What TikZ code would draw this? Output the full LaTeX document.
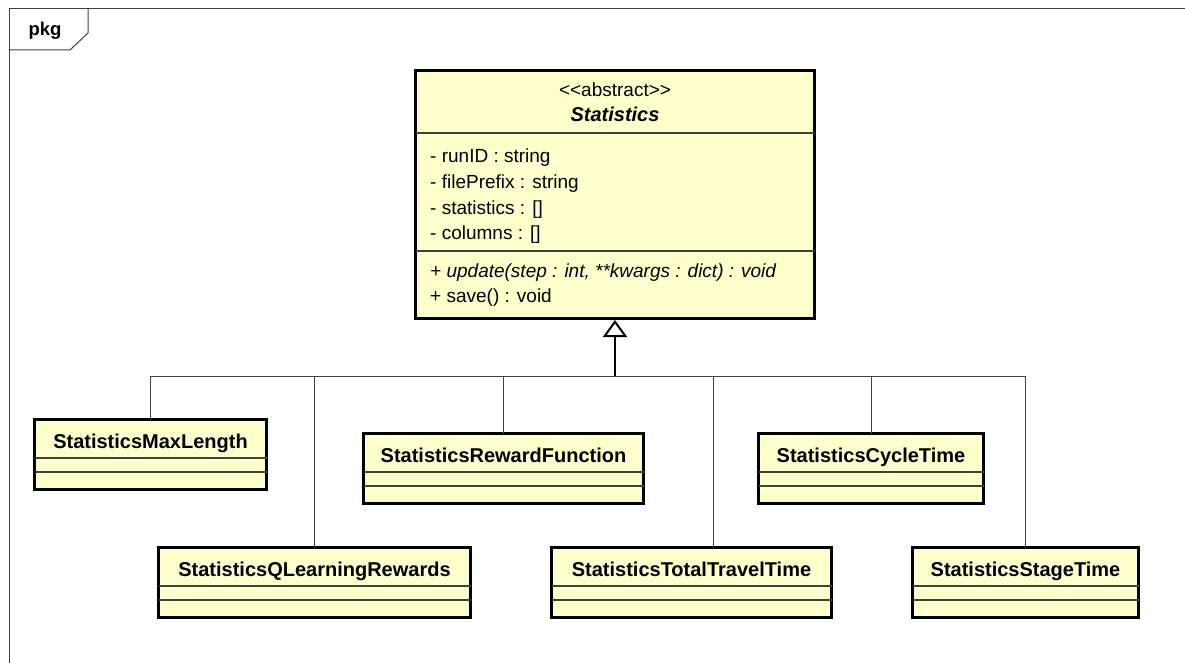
\documentclass[tikz,border=0pt]{standalone}
\usepackage{fontspec}
\setmainfont{Liberation Sans}
\definecolor{ClassFill}{RGB}{255,255,204}
\definecolor{LineGray}{RGB}{64,64,64}
\usepackage{tikz}
\usetikzlibrary{arrows.meta, positioning, calc}

\tikzset{
    cls/.style={draw=black, line width=3pt, fill=ClassFill, minimum height=70pt, inner sep=0pt, outer sep=0pt},
    clsname/.style={anchor=base, inner sep=0pt, font=\fontsize{20}{24}\selectfont\bfseries},
    member/.style={anchor=base west, inner sep=0pt, font=\fontsize{19}{23}\selectfont},
    divider/.style={line width=1.2pt, draw=LineGray},
    conn/.style={line width=1pt, draw=LineGray},
    gen/.style={line width=2pt, -{Triangle[open, length=17pt, width=24pt]}},
    frame/.style={line width=1pt, draw=LineGray}
}

\begin{document}
\begin{tikzpicture}[x=1pt, y=-1pt]
    \useasboundingbox (0,0) rectangle (1185,663);
    % package frame
    \draw [frame] (9,680) -- (9,9) -- (1200,9);
    \draw [frame] (9,50) -- (70,50) -- (88,33) -- (88,9);
    \node [clsname, anchor=center, font=\fontsize{18.5}{22}\selectfont\bfseries] (pkg) at (45,31) {pkg};

    % abstract base class
    \node [cls, minimum width=399pt, minimum height=248pt] (stat) at (615,194.5) {};
    \node [clsname, font=\fontsize{19}{23}\selectfont] (stat-stereo) at (615,97) {<{}<abstract>{}>};
    \node [clsname, font=\fontsize{20}{24}\selectfont\bfseries\itshape] (stat-name) at (615,122) {Statistics};
    \draw [divider] (stat.west |- 0,133) -- (stat.east |- 0,133);
    \draw [divider] (stat.west |- 0,251) -- (stat.east |- 0,251);
    \node [member] (att-runid) at (430,163) {- runID : string};
    \node [member] (att-prefix) at (430,188.5) {- filePrefix : string};
    \node [member] (att-stats) at (430,214) {- statistics : []};
    \node [member] (att-cols) at (430,239.5) {- columns : []};
    \node [member, font=\fontsize{19}{23}\selectfont\itshape] (op-update) at (430,277) {+ update(step : int, **kwargs : dict) : void};
    \node [member] (op-save) at (430,302.5) {+ save() : void};

    % subclasses
    \foreach \n/\x/\y/\w/\t in {maxlen/150.5/454.5/232/StatisticsMaxLength,
        qlearn/314.5/582.5/312/StatisticsQLearningRewards,
        reward/503.5/468.5/280/StatisticsRewardFunction,
        travel/691.5/582.5/280/StatisticsTotalTravelTime,
        cycle/871/468.5/225/StatisticsCycleTime,
        stage/1025.5/582.5/226/StatisticsStageTime} {
        \node [cls, minimum width=\w pt] (\n) at (\x,\y) {};
        \node [clsname] (\n-name) at ([yshift=-28.5pt]\n.north) {\t};
        \draw [divider] ([yshift=-38.5pt]\n.north west) -- ([yshift=-38.5pt]\n.north east);
        \draw [divider] ([yshift=-52.5pt]\n.north west) -- ([yshift=-52.5pt]\n.north east);
    }

    % generalization
    \coordinate (hub) at (615,376);
    \foreach \n in {maxlen, qlearn, reward, cycle, stage}
        \draw [conn] (\n.north) |- (hub);
    \draw [conn] ([xshift=22pt]travel.north) |- (hub);
    \draw [gen] (hub) -- ([yshift=-1.5pt]stat.south);
\end{tikzpicture}
\end{document}
